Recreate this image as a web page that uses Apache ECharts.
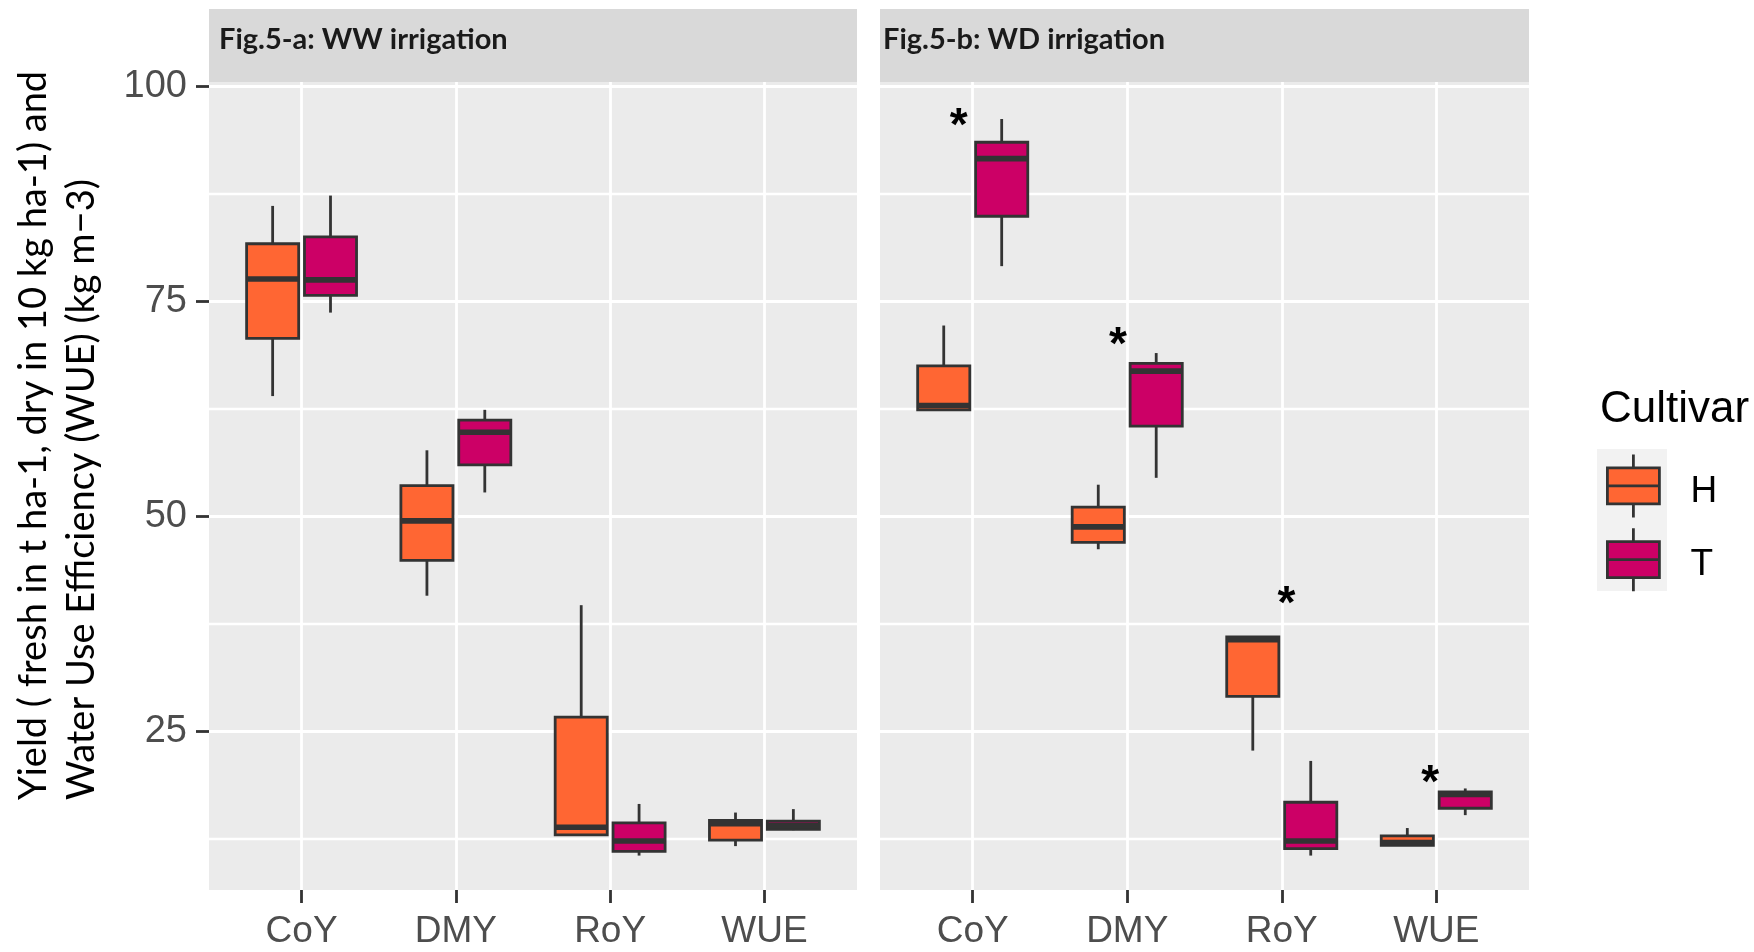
<!DOCTYPE html>
<html>
<head>
<meta charset="utf-8">
<script src="https://cdn.jsdelivr.net/npm/echarts@6/dist/echarts.min.js"></script>
<style>
html, body { margin: 0; padding: 0; background: #ffffff; }
#chart { width: 1754px; height: 952px; }
</style>
</head>
<body>
<div id="chart"></div>
<script>
// ---------------- data ----------------
const categories = ['CoY', 'DMY', 'RoY', 'WUE'];
const cultivars = ['H', 'T'];
const panelTitles = ['Fig.5-a: WW irrigation', 'Fig.5-b: WD irrigation'];
const yTicks = [25, 50, 75, 100];
const yTitleLines = ['Yield ( fresh in t ha-1, dry in 10 kg ha-1) and', 'Water Use Efficiency (WUE) (kg m\u22123)'];
const legendTitle = 'Cultivar';

// each row: [lower whisker, Q1, median, Q3, upper whisker] for CoY, DMY, RoY, WUE
const wwH = [
  [64.0, 70.7, 77.6, 81.7, 86.1],
  [40.8, 44.9, 49.5, 53.6, 57.7],
  [13.0, 13.0, 13.9, 26.7, 39.7],
  [11.7, 12.4, 14.3, 14.7, 15.6]
];
const wwT = [
  [73.7, 75.7, 77.5, 82.5, 87.3],
  [52.8, 56.0, 59.8, 61.2, 62.4],
  [10.6, 11.1, 12.3, 14.4, 16.6],
  [13.55, 13.65, 14.1, 14.6, 16.0]
];
const wdH = [
  [62.4, 62.4, 62.9, 67.5, 72.2],
  [46.2, 47.0, 48.8, 51.1, 53.7],
  [22.8, 29.1, 35.7, 36.0, 36.0],
  [11.8, 11.8, 12.1, 12.9, 13.8]
];
const wdT = [
  [79.1, 84.9, 91.6, 93.5, 96.2],
  [54.5, 60.5, 66.9, 67.8, 69.0],
  [10.6, 11.4, 12.3, 16.8, 21.6],
  [15.3, 16.1, 17.7, 18.0, 18.4]
];
// significance asterisks in the WD panel (x in category units, y in data units)
const starX = [0.91, 1.94, 3.03, 3.96];
const starY = [96.4, 71.0, 40.9, 20.1];
const starText = '*';

// ---------------- styling / layout ----------------
const COLORS = { H: '#FF6633', T: '#CC0066' };
const LINE = '#333333';
const LW = 2.8;
const DODGE = 0.375;
const BOX_W = 0.3375;
const PANEL_TOP = 82, PANEL_H = 808;
const PANEL_LEFT = [209, 880], PANEL_W = [648, 649];
const TITLE_INSET = [10, 3];
const AXIS_FONT = 'Liberation Sans, Arial, sans-serif';
const TITLE_FONT = 'Lato, "Open Sans", sans-serif';

function boxRender(offset, color) {
  return function (params, api) {
    const x = api.value(0) + offset;
    const low = api.coord([x, api.value(1)]);
    const q1 = api.coord([x, api.value(2)]);
    const med = api.coord([x, api.value(3)]);
    const q3 = api.coord([x, api.value(4)]);
    const high = api.coord([x, api.value(5)]);
    const w = api.size([BOX_W, 0])[0];
    const cx = q1[0];
    const l = cx - w / 2;
    const ls = { stroke: LINE, lineWidth: LW };
    return {
      type: 'group',
      children: [
        { type: 'line', shape: { x1: cx, y1: q3[1], x2: cx, y2: high[1] }, style: ls },
        { type: 'line', shape: { x1: cx, y1: low[1], x2: cx, y2: q1[1] }, style: ls },
        { type: 'rect', shape: { x: l, y: q3[1], width: w, height: q1[1] - q3[1] },
          style: { fill: color, stroke: LINE, lineWidth: LW } },
        { type: 'line', shape: { x1: l, y1: med[1], x2: l + w, y2: med[1] },
          style: { stroke: LINE, lineWidth: LW * 2 } }
      ]
    };
  };
}

function boxSeries(name, values, gi, offset) {
  return {
    type: 'custom', name: name, xAxisIndex: gi, yAxisIndex: gi,
    itemStyle: { color: COLORS[name] },
    encode: { x: 0, y: [1, 2, 3, 4, 5] },
    data: values.map((v, i) => [i + 1].concat(v)),
    renderItem: boxRender(offset, COLORS[name]),
    z: 3
  };
}

const starSeries = {
  type: 'custom', xAxisIndex: 1, yAxisIndex: 1, silent: true,
  data: starX.map((x, i) => [x, starY[i]]),
  encode: { x: 0, y: 1 },
  renderItem: function (params, api) {
    const p = api.coord([api.value(0), api.value(1)]);
    return {
      type: 'text', x: p[0], y: p[1] + 10,
      style: { text: starText, fill: '#000000', fontSize: 46, fontWeight: 'bold',
        fontFamily: AXIS_FONT, align: 'center', verticalAlign: 'middle' }
    };
  },
  z: 4
};

const grids = [0, 1].map(i => ({
  left: PANEL_LEFT[i], top: PANEL_TOP, width: PANEL_W[i], height: PANEL_H,
  show: true, backgroundColor: '#EBEBEB', borderWidth: 0, containLabel: false,
  outerBoundsMode: 'none'
}));

const xAxes = [0, 1].map(i => ({
  type: 'value', gridIndex: i, min: 0.4, max: 4.6, minInterval: 1, maxInterval: 1,
  axisLine: { show: false },
  axisTick: { show: true, length: 13, lineStyle: { color: LINE, width: LW },
    customValues: categories.map((c, k) => k + 1) },
  axisLabel: {
    customValues: categories.map((c, k) => k + 1),
    formatter: v => categories[Math.round(v) - 1] || '',
    margin: 23, fontSize: 37, lineHeight: 37, fontFamily: AXIS_FONT, color: '#4D4D4D'
  },
  splitLine: { show: true, lineStyle: { color: '#FFFFFF', width: LW } }
}));

const yAxes = [0, 1].map(i => ({
  type: 'value', gridIndex: i, min: 6.6, max: 100.5, minInterval: 25, maxInterval: 25, splitNumber: 4,
  axisLine: { show: false },
  axisTick: { show: i === 0, length: 13, lineStyle: { color: LINE, width: LW }, customValues: yTicks },
  axisLabel: {
    show: i === 0, customValues: yTicks,
    formatter: v => (yTicks.indexOf(v) >= 0 ? String(v) : ''),
    margin: 22, fontSize: 38, lineHeight: 38, fontFamily: AXIS_FONT, color: '#4D4D4D',
    padding: [14, 0, 0, 0]
  },
  splitLine: { show: true, lineStyle: { color: '#FFFFFF', width: LW } },
  minorTick: { show: false, splitNumber: 2 },
  minorSplitLine: { show: true, lineStyle: { color: '#FFFFFF', width: 2.3 } }
}));

const graphics = [];
[0, 1].forEach(i => {
  graphics.push({ type: 'rect', left: PANEL_LEFT[i], top: 9, shape: { width: PANEL_W[i], height: 73 },
    style: { fill: '#D9D9D9' }, z: 0 });
  graphics.push({ type: 'text', x: PANEL_LEFT[i] + TITLE_INSET[i], y: 40,
    style: { text: panelTitles[i], fill: '#1A1A1A', font: 'bold 29px ' + TITLE_FONT,
      textAlign: 'left', textVerticalAlign: 'middle', align: 'left', verticalAlign: 'middle' }, z: 1 });
});
graphics.push({ type: 'text', x: 34, y: 800, rotation: Math.PI / 2,
  style: { text: yTitleLines[0], fill: '#000000', font: '38px ' + TITLE_FONT,
    textAlign: 'left', textVerticalAlign: 'middle', align: 'left', verticalAlign: 'middle' } });
graphics.push({ type: 'text', x: 82, y: 800, rotation: Math.PI / 2,
  style: { text: yTitleLines[1], fill: '#000000', font: '38px ' + TITLE_FONT,
    textAlign: 'left', textVerticalAlign: 'middle', align: 'left', verticalAlign: 'middle' } });
graphics.push({ type: 'text', x: 1600, y: 410,
  style: { text: legendTitle, fill: '#000000', font: '44px ' + AXIS_FONT,
    textAlign: 'left', textVerticalAlign: 'middle', align: 'left', verticalAlign: 'middle' } });
graphics.push({ type: 'rect', left: 1597, top: 449, shape: { width: 70, height: 142 },
  style: { fill: '#F2F2F2' }, z: -1 });

const option = {
  animation: false,
  backgroundColor: '#FFFFFF',
  grid: grids,
  xAxis: xAxes,
  yAxis: yAxes,
  legend: {
    data: cultivars, orient: 'vertical', left: 1597, top: 449, padding: 0,
    itemWidth: 70, itemHeight: 71, itemGap: 0, selectedMode: false,
    icon: 'path://M0,0 M70,71 M35,4 L35,17.5 M9,17.5 L61,17.5 L61,53.5 L9,53.5 Z M9,35.5 L61,35.5 M35,53.5 L35,67',
    itemStyle: { borderColor: LINE, borderWidth: LW },
    formatter: name => '{n|' + name + '}',
    textStyle: {
      fontSize: 37, fontFamily: AXIS_FONT, color: '#000000',
      rich: { n: { fontSize: 37, fontFamily: AXIS_FONT, color: '#000000', padding: [11, 0, 0, 17] } }
    }
  },
  graphic: { elements: graphics },
  series: [
    boxSeries('H', wwH, 0, -DODGE / 2),
    boxSeries('T', wwT, 0, DODGE / 2),
    boxSeries('H', wdH, 1, -DODGE / 2),
    boxSeries('T', wdT, 1, DODGE / 2),
    starSeries
  ]
};

const chart = echarts.init(document.getElementById('chart'), null, { renderer: 'canvas' });
chart.setOption(option);
</script>
</body>
</html>
